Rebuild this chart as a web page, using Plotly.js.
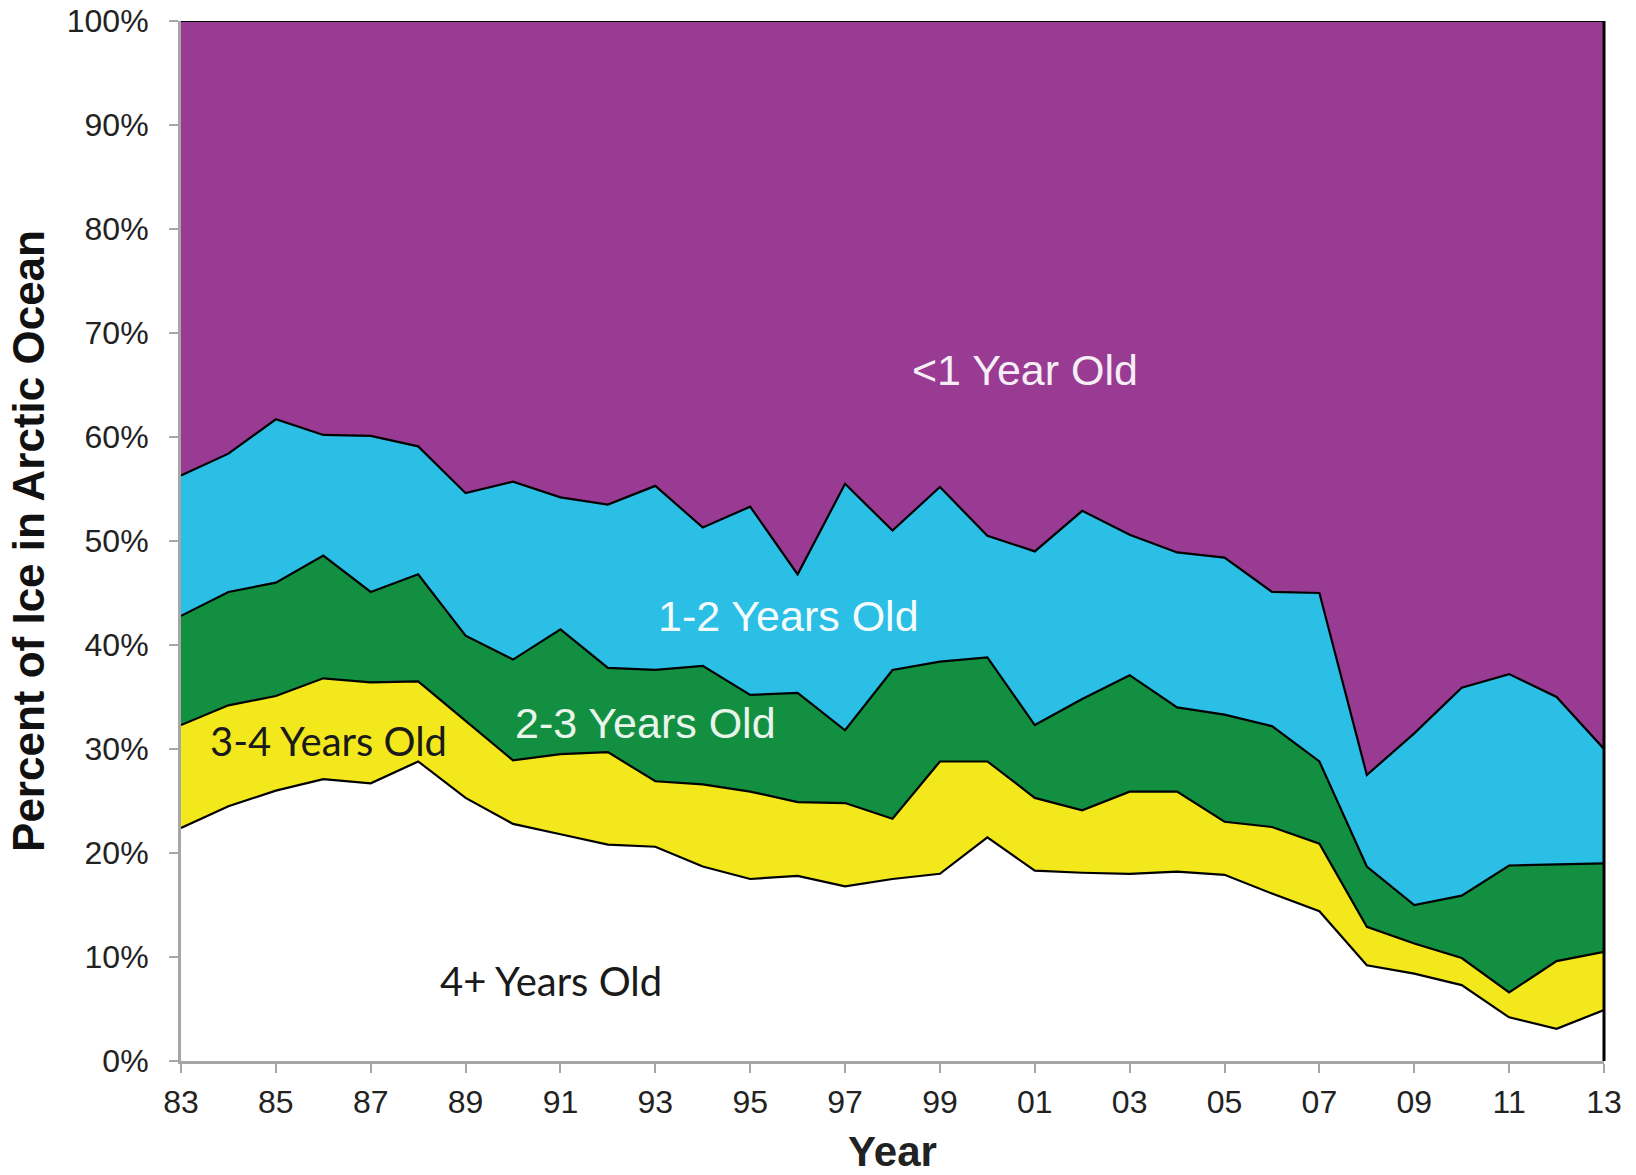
<!DOCTYPE html>
<html>
<head>
<meta charset="utf-8">
<script src="https://cdn.plot.ly/plotly-3.0.1.min.js"></script>
<style>
  html, body { margin: 0; padding: 0; background: #ffffff; }
  #chart { width: 1636px; height: 1175px; }
</style>
</head>
<body>
<div id="chart"></div>
<script>
// Years 1983 .. 2013
const years = [1983,1984,1985,1986,1987,1988,1989,1990,1991,1992,1993,1994,1995,1996,1997,1998,1999,2000,2001,2002,2003,2004,2005,2006,2007,2008,2009,2010,2011,2012,2013];

// Share of Arctic Ocean ice by age class (percent)
const age4plus = [22.4,24.5,26.0,27.1,26.7,28.8,25.3,22.8,21.8,20.8,20.6,18.7,17.5,17.8,16.8,17.5,18.0,21.5,18.3,18.1,18.0,18.2,17.9,16.1,14.4,9.2,8.4,7.3,4.2,3.1,4.9];
const age3to4  = [9.9,9.7,9.1,9.7,9.7,7.7,7.4,6.1,7.7,8.9,6.3,7.9,8.4,7.1,8.0,5.8,10.8,7.3,7.0,6.0,7.9,7.7,5.1,6.4,6.5,3.7,2.9,2.6,2.4,6.5,5.6];
const age2to3  = [10.5,10.9,10.9,11.8,8.7,10.3,8.2,9.7,12.0,8.1,10.7,11.4,9.3,10.5,7.0,14.3,9.6,10.0,7.0,10.7,11.2,8.1,10.3,9.7,7.9,5.8,3.7,6.0,12.2,9.3,8.5];
const age1to2  = [13.5,13.3,15.7,11.6,15.0,12.3,13.7,17.1,12.7,15.7,17.7,13.3,18.1,11.4,23.7,13.4,16.8,11.7,16.7,18.1,13.5,14.9,15.1,12.9,16.2,8.8,16.5,20.0,18.4,16.1,11.0];
const ageUnder1 = [43.7,41.6,38.3,39.8,39.9,40.9,45.4,44.3,45.8,46.5,44.7,48.7,46.7,53.2,44.5,49.0,44.8,49.5,51.0,47.1,49.4,51.1,51.6,54.9,55.0,72.5,68.5,64.1,62.8,65.0,70.0];

const seriesNames = ["4+ Years Old","3-4 Years Old","2-3 Years Old","1-2 Years Old","<1 Year Old"];
const seriesColors = ["#ffffff","#f2e81c","#138f42","#2bbfe6","#993b93"];

// Tick labels
const tickLabels = ["83","85","87","89","91","93","95","97","99","01","03","05","07","09","11","13"];
const tickYears = years.filter((y, i) => i % 2 === 0);

const yTickVals = [0,10,20,30,40,50,60,70,80,90,100];
const yTickText = yTickVals.map(v => v + "%");

// Label placement (year, percent)
const labelX = [1990.8, 1986.1, 1992.8, 1995.8, 2000.8];
const labelY = [7.7, 30.8, 32.5, 42.8, 66.4];

const seriesValues = [age4plus, age3to4, age2to3, age1to2, ageUnder1];

const traces = seriesValues.map((vals, i) => ({
  type: "scatter",
  mode: "lines",
  x: years,
  y: vals,
  name: seriesNames[i],
  stackgroup: "ice",
  fillcolor: seriesColors[i],
  line: { color: "#000000", width: 2.2, shape: "linear" },
  hoverinfo: "skip"
}));

const labelFonts = [
  { family: "Lato, 'Open Sans', sans-serif", size: 40, color: "#1a1a1a" },
  { family: "Lato, 'Open Sans', sans-serif", size: 40, color: "#1a1a1a" },
  { family: "'Liberation Sans', Arial, sans-serif", size: 43, color: "#e8f5ea" },
  { family: "'Liberation Sans', Arial, sans-serif", size: 43, color: "#f4fbfd" },
  { family: "'Liberation Sans', Arial, sans-serif", size: 43, color: "#f6eef6" }
];

const annotations = seriesNames.map((n, i) => ({
  x: labelX[i], y: labelY[i], xref: "x", yref: "y",
  text: n, showarrow: false, font: labelFonts[i],
  xanchor: "center", yanchor: "middle"
}));

const layout = {
  width: 1636,
  height: 1175,
  margin: { l: 181, r: 32, t: 21, b: 114 },
  paper_bgcolor: "#ffffff",
  plot_bgcolor: "#ffffff",
  showlegend: false,
  hovermode: false,
  font: { family: "'Liberation Sans', Arial, sans-serif", color: "#222222" },
  xaxis: {
    range: [1983, 2013],
    tickmode: "array",
    tickvals: tickYears,
    ticktext: tickLabels,
    ticks: "outside",
    ticklen: 9,
    tickwidth: 2,
    tickcolor: "#a6a6a6",
    showline: true,
    linecolor: "#a6a6a6",
    linewidth: 3,
    showgrid: false,
    zeroline: false,
    tickfont: { size: 32, color: "#222222" },
    ticklabelstandoff: 2,
    title: { text: "<b>Year</b>", font: { size: 42, color: "#222222" }, standoff: 22 }
  },
  yaxis: {
    range: [0, 100],
    tickmode: "array",
    tickvals: yTickVals,
    ticktext: yTickText,
    ticks: "outside",
    ticklen: 9,
    tickwidth: 2,
    tickcolor: "#a6a6a6",
    showline: true,
    linecolor: "#a6a6a6",
    linewidth: 3,
    showgrid: false,
    zeroline: false,
    tickfont: { size: 32, color: "#222222" },
    ticklabelstandoff: 14,
    title: { text: "<b>Percent of Ice in Arctic Ocean</b>", font: { size: 44, color: "#111111" }, standoff: 9 }
  },
  shapes: [
    { type: "line", xref: "paper", yref: "paper", x0: 1, x1: 1, y0: 0, y1: 1,
      line: { color: "#000000", width: 3 } }
  ],
  annotations: annotations
};

Plotly.newPlot("chart", traces, layout, { displayModeBar: false, staticPlot: true });
</script>
</body>
</html>
